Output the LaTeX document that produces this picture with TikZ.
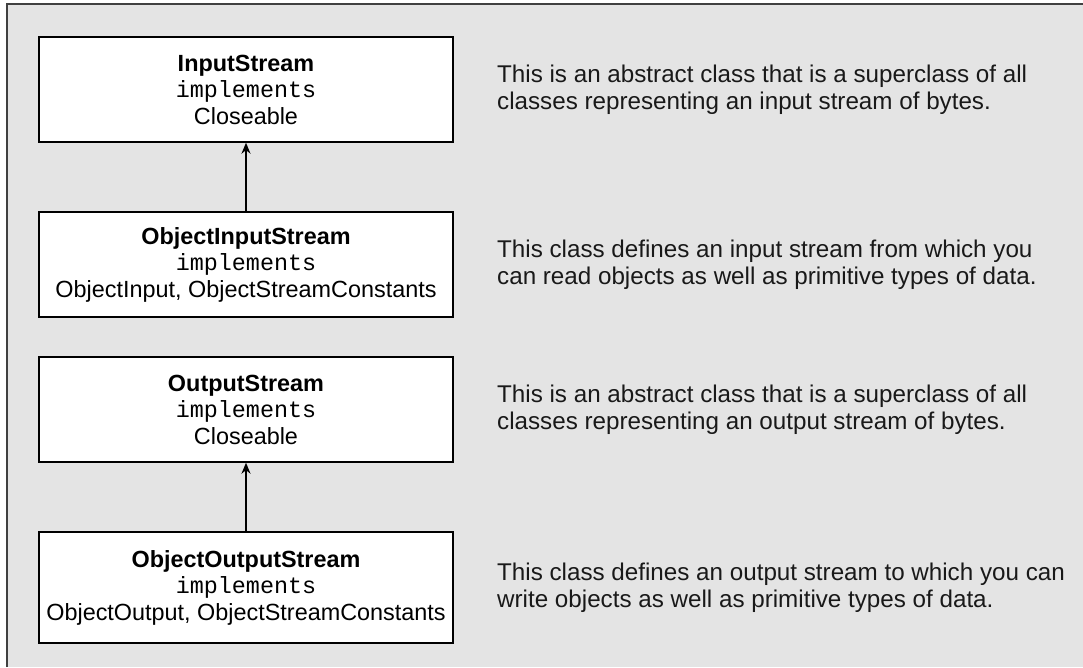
\documentclass[tikz,border=0pt]{standalone}
\usepackage{fontspec}
\setmainfont{Liberation Sans}
\setmonofont{Liberation Mono}
\usetikzlibrary{arrows.meta}
\definecolor{panel}{HTML}{E4E4E4}
\definecolor{framec}{HTML}{404040}
\begin{document}
\begin{tikzpicture}[x=1pt,y=-1pt,
  classbox/.style={draw=black, line width=1.4pt, fill=white, minimum width=414pt,
    minimum height=105pt, align=center, inner sep=0pt,
    font=\fontsize{23.4}{26.5}\selectfont},
  desc/.style={anchor=west, align=left, inner sep=0pt,
    font=\fontsize{24.2}{27}\selectfont, text=black!90},
  inherit/.style={-{Stealth[length=11pt,width=9pt]}, line width=1.4pt}]
\useasboundingbox (0,0) rectangle (1083,667);
\fill[white] (0,0) rectangle (1083,667);
\fill[panel] (7,4) rectangle (1083,667);
\draw[framec, line width=2pt] (7,667) -- (7,4) -- (1083,4);

\node[classbox] (is) at (246,89.5) {\textbf{InputStream}\\\texttt{implements}\\Closeable};
\node[classbox] (ois) at (246,264.5) {\textbf{ObjectInputStream}\\\texttt{implements}\\ObjectInput, ObjectStreamConstants};
\node[classbox] (os) at (246,409.5) {\textbf{OutputStream}\\\texttt{implements}\\Closeable};
\node[classbox, minimum height=111pt] (oos) at (246,587.5) {\textbf{ObjectOutputStream}\\\texttt{implements}\\ObjectOutput, ObjectStreamConstants};

\draw[inherit] (ois.north) -- (is.south);
\draw[inherit] (oos.north) -- (os.south);

\node[desc] (d1) at (497,89.5) {This is an abstract class that is a superclass of all\\classes representing an input stream of bytes.};
\node[desc] (d2) at (497,264.5) {This class defines an input stream from which you\\can read objects as well as primitive types of data.};
\node[desc] (d3) at (497,409.5) {This is an abstract class that is a superclass of all\\classes representing an output stream of bytes.};
\node[desc] (d4) at (497,587.5) {This class defines an output stream to which you can\\write objects as well as primitive types of data.};
\end{tikzpicture}
\end{document}
